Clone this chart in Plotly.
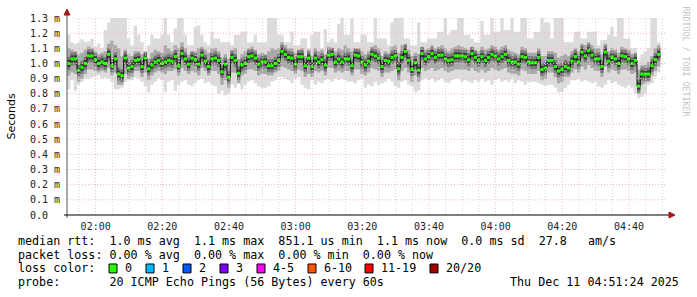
import plotly.graph_objects as go
from datetime import datetime, timedelta

# ---------------- data (ms) ----------------
T_START = datetime(2025, 12, 11, 1, 51, 24)
T_END = datetime(2025, 12, 11, 4, 51, 24)
STEP_MIN = 1

rtt_median = [
    1.00, 1.03, 1.03, 0.955, 0.975, 1.00, 1.05, 1.05, 1.025, 1.00,
    1.01, 1.00, 1.06, 0.985, 1.03, 0.93, 0.92, 1.035, 0.97, 0.98,
    1.02, 1.025, 0.98, 1.035, 0.965, 0.99, 1.01, 1.02, 1.00, 1.01,
    1.02, 1.015, 1.045, 0.985, 1.065, 1.03, 0.995, 1.035, 1.025, 0.995,
    1.055, 1.015, 0.98, 1.03, 1.035, 1.02, 0.945, 0.995, 0.91, 1.04,
    1.02, 0.935, 0.99, 1.00, 1.045, 1.05, 1.035, 0.995, 1.01, 1.01,
    0.985, 0.985, 1.00, 1.02, 1.08, 1.06, 1.04, 1.035, 0.995, 1.045,
    1.045, 0.985, 1.035, 0.98, 1.035, 1.01, 1.025, 0.99, 1.055, 1.06,
    1.01, 1.03, 1.01, 1.03, 1.03, 0.985,
    1.055, 1.05, 1.01, 0.99, 1.015, 1.06, 1.05, 1.035, 0.98, 1.02,
    1.015, 1.04, 1.05, 0.965, 1.04, 1.08, 1.02, 0.96, 1.005, 0.955,
    1.065, 1.03, 1.045, 1.065, 1.04, 1.055, 1.055, 1.03, 1.02, 1.025,
    1.05, 1.05, 1.05, 1.045, 1.025, 1.065, 1.04, 1.02, 1.045, 1.02,
    1.04, 1.06, 1.05, 1.03, 1.045, 1.06, 1.02, 1.01, 1.01, 0.995,
    1.045, 1.04, 1.01, 1.005, 1.005, 1.04, 0.96, 0.97, 1.02, 1.02,
    0.98, 0.95, 0.96, 0.98, 0.97, 1.015, 1.045, 1.01, 1.075, 1.05,
    1.085, 1.055, 1.03, 1.03, 0.98, 1.075, 1.015, 1.04, 1.03, 1.00,
    1.05, 1.045, 1.03, 1.00, 1.02, 0.85, 0.93, 0.93, 0.93, 0.985,
    1.025, 1.06,
]

rtt_max = [
    1.19, 1.14, 1.13, 1.14, 1.16, 1.14, 1.145, 1.165, 1.11, 1.13,
    1.10, 1.22, 1.27, 1.35, 1.35, 1.35, 1.35, 1.35, 1.165, 1.12,
    1.25, 1.19, 1.14, 1.08, 1.12, 1.19, 1.165, 1.165, 1.19, 1.35,
    1.19, 1.14, 1.23, 1.35, 1.35, 1.19, 1.12, 1.12, 1.24, 1.25,
    1.19, 1.14, 1.12, 1.21, 1.165, 1.165, 1.14, 1.14, 1.14, 1.12,
    1.19, 1.19, 1.21, 1.21, 1.14, 1.14, 1.19, 1.14, 1.14, 1.14,
    1.35, 1.35, 1.35, 1.19, 1.19, 1.14, 1.14, 1.21, 1.12, 1.12,
    1.165, 1.165, 1.10, 1.19, 1.21, 1.21, 1.10, 1.225, 1.14, 1.165,
    1.14, 1.26, 1.35, 1.19, 1.19,
    1.35, 1.14, 1.14, 1.19, 1.19,
    1.14, 1.14, 1.35, 1.165, 1.165, 1.165, 1.12, 1.27, 1.35, 1.35,
    1.35, 1.165, 1.165, 1.12, 1.12, 1.27, 1.14, 1.14, 1.165, 1.165,
    1.165, 1.21, 1.21, 1.35, 1.19, 1.22, 1.22, 1.35, 1.35, 1.19,
    1.19, 1.165, 1.14, 1.14, 1.28, 1.19, 1.19, 1.35, 1.21, 1.21,
    1.35, 1.22, 1.22, 1.35, 1.21, 1.21, 1.35, 1.35, 1.165, 1.165,
    1.21, 1.21, 1.35, 1.27, 1.27, 1.165, 1.35, 1.35, 1.35, 1.14,
    1.14, 1.14, 1.21, 1.21, 1.165, 1.165, 1.21, 1.21, 1.21, 1.12,
    1.155, 1.155, 1.19, 1.24, 1.18, 1.35, 1.35, 1.165, 1.165, 1.10,
    1.10, 1.02, 1.06, 1.08, 1.10, 1.35, 1.35, 1.14,
]

rtt_min = [
    0.83, 0.89, 0.82, 0.86, 0.88, 0.90, 0.90, 0.91, 0.915, 0.92,
    0.90, 0.905, 0.90, 0.88, 0.83, 0.83, 0.84, 0.88, 0.89, 0.89,
    0.91, 0.90, 0.88, 0.85, 0.81, 0.86, 0.88, 0.90, 0.89, 0.81,
    0.88, 0.89, 0.82, 0.86, 0.88, 0.89, 0.86, 0.85, 0.87, 0.89,
    0.90, 0.87, 0.88, 0.86, 0.85, 0.80, 0.82, 0.79, 0.80, 0.86,
    0.84, 0.87, 0.83, 0.86, 0.88, 0.89, 0.87, 0.85, 0.84, 0.84,
    0.85, 0.88, 0.89, 0.91, 0.91, 0.90, 0.89, 0.87, 0.90, 0.91,
    0.86, 0.84, 0.83, 0.89, 0.86, 0.88, 0.87, 0.89, 0.90, 0.88,
    0.90, 0.89, 0.90, 0.89, 0.88, 0.88,
    0.87, 0.89, 0.90, 0.84, 0.86,
    0.85, 0.88, 0.86, 0.87, 0.88,
    0.90, 0.88, 0.85, 0.84, 0.88,
    0.89, 0.86, 0.85, 0.81, 0.82,
    0.89, 0.90, 0.89, 0.90, 0.88,
    0.89, 0.90, 0.88, 0.87, 0.89,
    0.90, 0.90, 0.88, 0.89, 0.88,
    0.87, 0.89, 0.88, 0.90, 0.88,
    0.89, 0.86, 0.89, 0.90, 0.88,
    0.89, 0.88, 0.90, 0.87, 0.89,
    0.88, 0.86, 0.88, 0.88, 0.88,
    0.87, 0.86, 0.85, 0.86, 0.86,
    0.84, 0.81, 0.81, 0.84, 0.86,
    0.89, 0.89, 0.90, 0.88, 0.89,
    0.88, 0.87, 0.88, 0.85, 0.84,
    0.86, 0.89, 0.87, 0.88, 0.86,
    0.85, 0.84, 0.86, 0.84, 0.80,
    0.77, 0.78, 0.80, 0.86, 0.87,
    0.91, 0.94,
]

rtt_hi2 = [
    1.10, 1.09, 1.08, 1.06, 1.07, 1.09, 1.11, 1.10, 1.08, 1.06,
    1.07, 1.08, 1.13, 1.15, 1.12, 1.10, 1.05, 1.09, 1.06, 1.05,
    1.08, 1.08, 1.06, 1.07, 1.03, 1.07, 1.09, 1.08, 1.07, 1.12,
    1.10, 1.08, 1.12, 1.10, 1.14, 1.10, 1.06, 1.08, 1.08, 1.10,
    1.11, 1.09, 1.07, 1.10, 1.10, 1.08, 1.04, 1.06, 1.03, 1.09,
    1.10, 1.03, 1.06, 1.08, 1.10, 1.11, 1.09, 1.06, 1.07, 1.06,
    1.08, 1.10, 1.09, 1.10, 1.14, 1.12, 1.10, 1.10, 1.07, 1.09,
    1.10, 1.05, 1.09, 1.05, 1.10, 1.08, 1.09, 1.06, 1.11, 1.10,
    1.08, 1.10, 1.09, 1.12, 1.10, 1.08,
    1.10, 1.10, 1.08, 1.06, 1.08, 1.11, 1.12, 1.10, 1.05, 1.08,
    1.07, 1.11, 1.12, 1.07, 1.12, 1.13, 1.09, 1.05, 1.07, 1.06,
    1.11, 1.09, 1.10, 1.12, 1.10, 1.11, 1.12, 1.10, 1.08, 1.10,
    1.11, 1.12, 1.11, 1.10, 1.09, 1.11, 1.09, 1.08, 1.11, 1.09,
    1.10, 1.12, 1.11, 1.09, 1.11, 1.12, 1.09, 1.08, 1.07, 1.06,
    1.11, 1.10, 1.07, 1.07, 1.07, 1.10, 1.05, 1.05, 1.08, 1.08,
    1.07, 1.04, 1.05, 1.06, 1.05, 1.08, 1.10, 1.08, 1.13, 1.12,
    1.14, 1.12, 1.10, 1.10, 1.06, 1.13, 1.08, 1.10, 1.09, 1.07,
    1.11, 1.10, 1.09, 1.06, 1.07, 0.96, 0.99, 0.99, 1.01, 1.05,
    1.10, 1.12,
]

rtt_lo2 = [
    0.92, 0.94, 0.93, 0.88, 0.90, 0.93, 0.96, 0.96, 0.95, 0.94,
    0.95, 0.94, 0.97, 0.92, 0.94, 0.86, 0.86, 0.93, 0.90, 0.91,
    0.95, 0.95, 0.91, 0.94, 0.89, 0.92, 0.94, 0.95, 0.94, 0.93,
    0.95, 0.95, 0.96, 0.92, 0.97, 0.95, 0.93, 0.95, 0.94, 0.92,
    0.97, 0.95, 0.92, 0.95, 0.95, 0.93, 0.86, 0.89, 0.84, 0.94,
    0.94, 0.87, 0.92, 0.93, 0.96, 0.96, 0.95, 0.92, 0.93, 0.93,
    0.92, 0.92, 0.94, 0.95, 0.98, 0.97, 0.96, 0.95, 0.93, 0.96,
    0.95, 0.91, 0.93, 0.91, 0.95, 0.94, 0.95, 0.92, 0.97, 0.97,
    0.94, 0.95, 0.94, 0.95, 0.95, 0.92,
    0.96, 0.96, 0.93, 0.92, 0.94, 0.97, 0.96, 0.95, 0.91, 0.94,
    0.94, 0.95, 0.96, 0.89, 0.95, 0.97, 0.94, 0.88, 0.92, 0.88,
    0.97, 0.95, 0.96, 0.97, 0.95, 0.96, 0.97, 0.95, 0.94, 0.95,
    0.96, 0.96, 0.96, 0.96, 0.95, 0.97, 0.95, 0.94, 0.96, 0.94,
    0.95, 0.97, 0.96, 0.95, 0.96, 0.97, 0.94, 0.93, 0.93, 0.92,
    0.96, 0.95, 0.93, 0.93, 0.93, 0.95, 0.89, 0.90, 0.94, 0.94,
    0.91, 0.87, 0.88, 0.91, 0.91, 0.94, 0.96, 0.94, 0.98, 0.96,
    0.99, 0.97, 0.95, 0.95, 0.91, 0.98, 0.94, 0.96, 0.95, 0.93,
    0.96, 0.96, 0.95, 0.93, 0.94, 0.80, 0.86, 0.87, 0.88, 0.92,
    0.95, 0.98,
]

y_ticks = [0.0, 0.1, 0.2, 0.3, 0.4, 0.5, 0.6, 0.7, 0.8, 0.9, 1.0, 1.1, 1.2, 1.3]
y_ticktext = ["0.0\u00a0\u00a0"] + ["%.1f m" % v for v in y_ticks[1:]]

legend_median = "median rtt:  1.0 ms avg  1.1 ms max  851.1 us min  1.1 ms now  0.0 ms sd  27.8   am/s"
legend_loss = "packet loss: 0.00 % avg  0.00 % max  0.00 % min  0.00 % now"
loss_labels = ["0", "1", "2", "3", "4-5", "6-10", "11-19", "20/20"]
loss_colors = ["#26ff00", "#00b8ff", "#0059ff", "#7e00ff", "#ff00ff", "#ff5500", "#ff0000", "#a10000"]
probe_text = "probe:       20 ICMP Echo Pings (56 Bytes) every 60s"
stamp_text = "Thu Dec 11 04:51:24 2025"
watermark = "RRDTOOL / TOBI OETIKER"

# ---------------- geometry ----------------
W, H = 697, 297
L, R, T, B = 67, 667, 16, 215


def pxx(x):
    return (x - L) / (R - L)


def pxy(y):
    return (B - y) / (B - T)


n = len(rtt_median)
edges = [T_START + timedelta(minutes=STEP_MIN * i) for i in range(n + 1)]


def stepped(vals):
    return list(vals) + [vals[-1]]


def segments(vals):
    xs, ys = [], []
    for i, v in enumerate(vals):
        xs += [edges[i], edges[i + 1], None]
        ys += [v, v, None]
    return xs, ys


fig = go.Figure()


def band(lo, hi, color):
    fig.add_trace(go.Scatter(x=edges, y=stepped(lo), mode="lines",
                             line=dict(width=0, shape="hv"), hoverinfo="skip",
                             showlegend=False))
    fig.add_trace(go.Scatter(x=edges, y=stepped(hi), mode="lines",
                             line=dict(width=0, shape="hv"), fill="tonexty",
                             fillcolor=color, hoverinfo="skip", showlegend=False))


band(rtt_min, rtt_max, "#dcdcdc")
band(rtt_lo2, rtt_hi2, "#a9a9a9")

sx, sy = segments(rtt_median)
fig.add_trace(go.Scatter(x=sx, y=sy, mode="lines", line=dict(width=13, color="#7a7a7a"),
                         hoverinfo="skip", showlegend=False))
fig.add_trace(go.Scatter(x=sx, y=sy, mode="lines", line=dict(width=7, color="#3c3c3c"),
                         hoverinfo="skip", showlegend=False))
fig.add_trace(go.Scatter(x=edges, y=stepped(rtt_median), mode="lines",
                         line=dict(width=1, color="#101010", shape="hv"),
                         hoverinfo="skip", showlegend=False))
fig.add_trace(go.Scatter(x=sx, y=sy, mode="lines", line=dict(width=3, color=loss_colors[0]),
                         hoverinfo="skip", showlegend=False))

shapes = []
MAJ = "#f3b4b4"
MIN = "#d2d2d2"
DASH = "1px,2px"
# horizontal grid (drawn above the smoke, like rrdtool)
for v in y_ticks[1:]:
    shapes.append(dict(type="line", xref="paper", yref="y", x0=0, x1=1, y0=v, y1=v,
                       line=dict(color=MAJ, width=1, dash=DASH), layer="above"))
# vertical grid
t = datetime(2025, 12, 11, 1, 55)
while t < T_END:
    major = (t.minute % 20 == 0)
    shapes.append(dict(type="line", xref="x", yref="paper", x0=t, x1=t, y0=0, y1=1,
                       line=dict(color=MAJ if major else MIN, width=1, dash=DASH),
                       layer="above"))
    t += timedelta(minutes=5)

# axes with arrows
shapes.append(dict(type="line", xref="paper", yref="paper", x0=pxx(67), x1=pxx(67),
                   y0=pxy(218), y1=pxy(12), line=dict(color="#555555", width=1), layer="above"))
shapes.append(dict(type="line", xref="paper", yref="paper", x0=pxx(64), x1=pxx(670),
                   y0=pxy(215), y1=pxy(215), line=dict(color="#000000", width=1), layer="above"))
shapes.append(dict(type="path", xref="paper", yref="paper",
                   path="M %f %f L %f %f L %f %f Z" % (pxx(67), pxy(7), pxx(64), pxy(13), pxx(70), pxy(13)),
                   fillcolor="#a01818", line=dict(color="#a01818", width=1), layer="above"))
shapes.append(dict(type="path", xref="paper", yref="paper",
                   path="M %f %f L %f %f L %f %f Z" % (pxx(675), pxy(215), pxx(669), pxy(212), pxx(669), pxy(218)),
                   fillcolor="#a01818", line=dict(color="#a01818", width=1), layer="above"))

MONO = "DejaVu Sans Mono"
LEG = 11.7
annots = []


def txt(x, y, s, anchor="left", size=LEG, color="#000000", font=MONO, angle=0):
    annots.append(dict(xref="paper", yref="paper", x=pxx(x), y=pxy(y), text=s.replace(" ", "\u00a0"),
                       showarrow=False, xanchor=anchor, yanchor="middle", textangle=angle,
                       font=dict(family=font, size=size, color=color)))


txt(16, 241, legend_median)
txt(16, 255, legend_loss)
txt(16, 269, "loss color:")
box_x = [109, 146, 183, 220, 257, 308, 365, 430]
for bx, lab, col in zip(box_x, loss_labels, loss_colors):
    shapes.append(dict(type="rect", xref="paper", yref="paper", x0=pxx(bx), x1=pxx(bx + 8),
                       y0=pxy(273.5), y1=pxy(264.5), fillcolor=col,
                       line=dict(color="#000000", width=1)))
    txt(bx + 14, 269, lab)
txt(16, 283, probe_text)
txt(681, 283, stamp_text, anchor="right")
txt(11, 115.5, "Seconds", anchor="center", size=11, color="#000000", font="DejaVu Sans", angle=-90)
txt(686, 60, watermark, anchor="center", size=8.3, color="#c4c4c4", angle=90)

fig.update_layout(
    width=W, height=H,
    margin=dict(l=L, r=W - R, t=T, b=H - B, pad=0),
    paper_bgcolor="#ffffff", plot_bgcolor="#ffffff",
    shapes=shapes, annotations=annots,
    showlegend=False,
    xaxis=dict(type="date", range=[T_START, T_END], showgrid=False, zeroline=False,
               showline=False, ticks="", tick0=datetime(2025, 12, 11, 2, 0),
               dtick=20 * 60 * 1000, tickformat="%H:%M",
               tickfont=dict(family=MONO, size=10, color="#222222"),
               ticklabelstandoff=4),
    yaxis=dict(range=[0, 1.3], showgrid=False, zeroline=False, showline=False,
               tickmode="array", tickvals=y_ticks, ticktext=y_ticktext, ticks="",
               tickfont=dict(family=MONO, size=10, color="#222222"),
               ticklabelstandoff=6),
)

fig.write_html("out.html")
